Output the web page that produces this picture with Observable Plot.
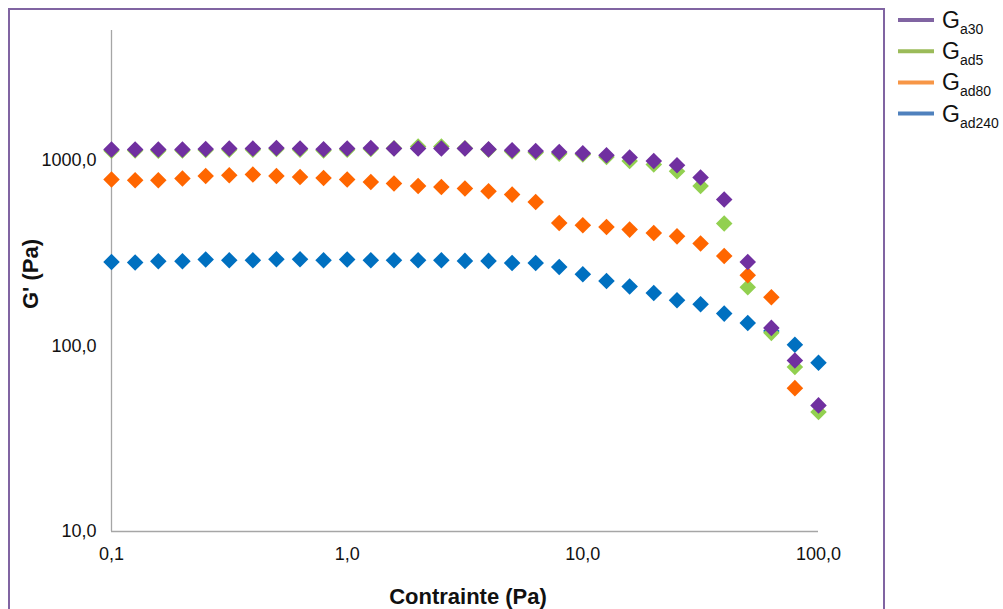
<!DOCTYPE html>
<html><head><meta charset="utf-8">
<script src="https://cdn.jsdelivr.net/npm/d3@7"></script>
<script src="https://cdn.jsdelivr.net/npm/@observablehq/plot@0.6"></script>
<style>
body{margin:0;background:#fff;width:1003px;height:609px;overflow:hidden;position:relative;font-family:"Liberation Sans",Arial,sans-serif;}
#frame{position:absolute;left:8px;top:8px;width:877px;height:700px;box-sizing:border-box;border:2px solid #8064A2;}
#chart{position:absolute;left:0;top:0;}
.title{position:absolute;font-weight:bold;font-size:22px;color:#111;white-space:nowrap;}
#legend{position:absolute;left:880px;top:0;}
</style></head><body>
<div id="frame"></div>
<div id="chart"></div>
<div class="title" id="ytitle"></div>
<div class="title" id="xtitle"></div>
<svg id="legend" width="123" height="140"></svg>
<script>
// x: applied stress (Pa)
const stress = [0.1, 0.126, 0.158, 0.2, 0.251, 0.316, 0.398, 0.501, 0.631, 0.794,
  1.0, 1.26, 1.58, 2.0, 2.51, 3.16, 3.98, 5.01, 6.31, 7.94,
  10.0, 12.6, 15.8, 20.0, 25.1, 31.6, 39.8, 50.1, 63.1, 79.4, 100.0];
// G' (Pa) per sample
const gA30 = [1142, 1142, 1142, 1142, 1150, 1156, 1156, 1165, 1156, 1146,
  1156, 1165, 1156, 1156, 1156, 1156, 1146, 1132, 1122, 1108,
  1092, 1064, 1034, 991, 940, 807, 614, 283, 125, 83.5, 47.8];
const gAd5 = [1125, 1128, 1125, 1128, 1135, 1140, 1140, 1150, 1140, 1130,
  1140, 1150, 1160, 1185, 1185, 1160, 1140, 1115, 1100, 1085,
  1073, 1042, 991, 948, 872, 727, 456, 207, 117.5, 77, 44];
const gAd80 = [787, 780, 780, 797, 823, 830, 837, 823, 813, 803,
  787, 764, 749, 727, 718, 704, 681, 653, 596, 459,
  446, 437, 423, 406, 389, 356, 305, 240, 183, 59.2, null];
const gAd240 = [283, 281, 285.5, 285.5, 292, 289, 289, 292.6, 292.6, 289,
  292, 289, 289, 289, 289, 287, 287, 279.5, 279.5, 266,
  243, 223.6, 209, 192.6, 176, 167.4, 149.2, 132.7, 120.2, 101.5, 81.2];

const seriesNames = ["Ga30", "Gad5", "Gad80", "Gad240"];
const legendBase = "G";
const legendSubs = ["a30", "ad5", "ad80", "ad240"];
const markerColors = ["#7030A0", "#92D050", "#FF6600", "#0070C0"];
const lineColors = ["#8064A2", "#9BBB59", "#F79646", "#4F81BD"];
const drawOrder = ["Gad240", "Gad5", "Gad80", "Ga30"];

const xTicks = [0.1, 1, 10, 100];
const xTickLabels = ["0,1", "1,0", "10,0", "100,0"];
const yTicks = [10, 100, 1000];
const yTickLabels = ["10,0", "100,0", "1000,0"];
const xTitle = "Contrainte (Pa)";
const yTitle = "G' (Pa)";

const valuesBySeries = {Ga30: gA30, Gad5: gAd5, Gad80: gAd80, Gad240: gAd240};
const data = drawOrder.flatMap(name =>
  stress.map((x, i) => ({series: name, x, y: valuesBySeries[name][i]})).filter(d => d.y != null));

const diamond = {
  draw(ctx, size) {
    const h = Math.sqrt(size / 2);
    ctx.moveTo(0, -h); ctx.lineTo(h, 0); ctx.lineTo(0, h); ctx.lineTo(-h, 0); ctx.closePath();
  }
};

const chart = Plot.plot({
  width: 1003, height: 609,
  marginLeft: 111, marginRight: 185, marginTop: 30, marginBottom: 78,
  style: {fontFamily: "'Liberation Sans', Arial, sans-serif", fontSize: "18px", color: "#111", background: "transparent"},
  x: {type: "log", domain: [0.1, 100]},
  y: {type: "log", domain: [10, 5000]},
  color: {domain: seriesNames, range: markerColors},
  marks: [
    Plot.axisX({ticks: xTicks, tickFormat: d => xTickLabels[xTicks.indexOf(d)], tickSize: 0, tickPadding: 16, label: null, fontSize: 18}),
    Plot.axisY({ticks: yTicks, tickFormat: d => yTickLabels[yTicks.indexOf(d)], tickSize: 0, tickPadding: 15, label: null, fontSize: 18}),
    Plot.ruleX([0.1], {stroke: "#A6A6A6", strokeWidth: 1.3}),
    Plot.ruleY([10], {stroke: "#A6A6A6", strokeWidth: 1.3}),
    Plot.dot(data, {x: "x", y: "y", fill: "series", symbol: diamond, r: 6.6, stroke: "none"})
  ]
});
document.getElementById("chart").appendChild(chart);

const yt = document.getElementById("ytitle");
yt.textContent = yTitle;
yt.style.left = "31px"; yt.style.top = "274px";
yt.style.transform = "translate(-50%,-50%) rotate(-90deg)";
const xt = document.getElementById("xtitle");
xt.textContent = xTitle;
xt.style.left = "468px"; xt.style.top = "597px";
xt.style.transform = "translate(-50%,-50%)";

const lg = d3.select("#legend");
seriesNames.forEach((name, i) => {
  const yLine = 20 + i * 31.2;
  lg.append("line").attr("x1", 18).attr("x2", 54).attr("y1", yLine).attr("y2", yLine)
    .attr("stroke", lineColors[i]).attr("stroke-width", 4);
  const t = lg.append("text").attr("x", 62).attr("y", yLine + 8)
    .attr("font-family", "'Liberation Sans', Arial, sans-serif").attr("font-size", 23).attr("fill", "#111");
  t.append("tspan").text(legendBase);
  t.append("tspan").attr("font-size", 14).attr("dy", 6).text(legendSubs[i]);
});
</script>
</body></html>
